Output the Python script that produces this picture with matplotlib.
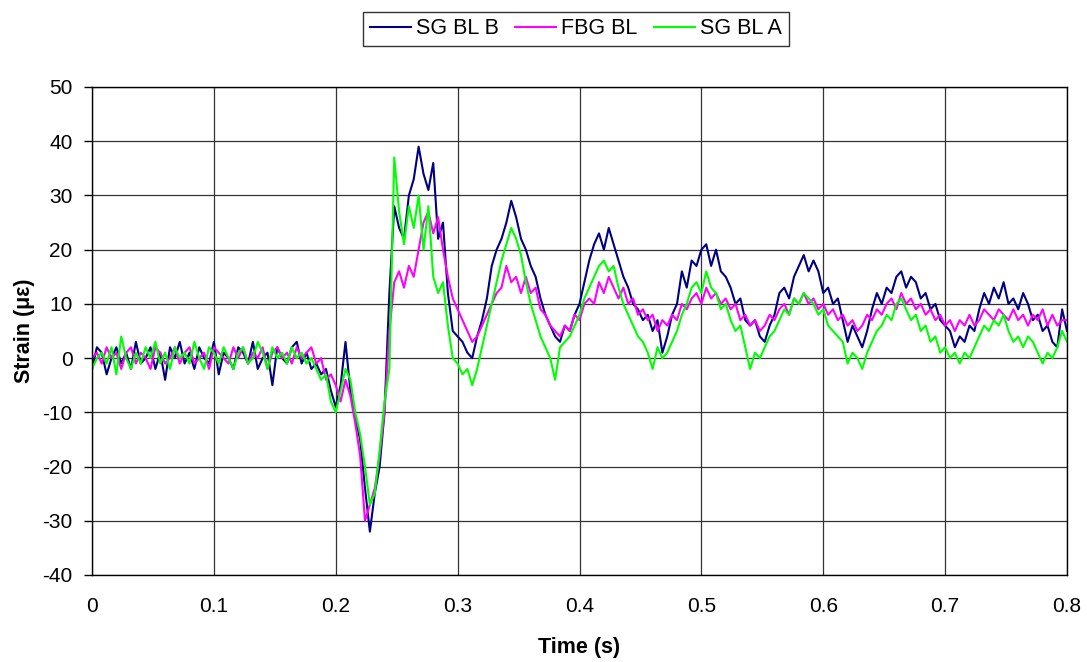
import numpy as np
import matplotlib
matplotlib.use("Agg")
import matplotlib.pyplot as plt

dt = 0.004
time = [round(i * dt, 3) for i in range(201)]

sg_bl_b = [
    -2, 2, 1, -3, 0, 2, -1, 1, -2, 3,
    -1, 0, 2, -2, 1, -4, 2, 0, 3, -1,
    1, -2, 2, 0, -1, 3, -3, 1, 0, -2,
    2, 1, -1, 3, -2, 0, 1, -5, 2, 0,
    -1, 2, 3, -1, 1, -2,
    -1, -3, -2, -6, -9, -5, 3, -6, -11, -15,
    -24, -32, -25, -20, -10, 12, 28, 24, 22, 30,
    33, 39, 34, 31, 36, 22, 25, 12, 5, 4,
    3, 1, 0, 4, 7, 11, 17, 20, 22, 25,
    29, 26, 22, 20, 17, 15, 11, 8, 6, 4,
    3, 6, 5, 8, 10, 14, 18, 21, 23, 20,
    24, 21, 18, 15, 13, 10, 9, 7, 8, 5,
    7, 1, 4, 8, 10, 16, 13, 18, 17, 20,
    21, 17, 20, 16, 15, 13, 10, 11, 7, 6,
    7, 4, 3, 6, 8, 12, 13, 11, 15, 17,
    19, 16, 18, 16, 12, 13, 10, 11, 7, 3,
    6, 4, 2, 5, 9, 12, 10, 13, 12, 15,
    16, 13, 15, 14, 11, 12, 9, 10, 7, 6,
    5, 2, 4, 3, 6, 5, 9, 12, 10, 13,
    11, 14, 10, 11, 9, 12, 10, 7, 8, 5,
    6, 3, 2, 9, 5,
]

fbg_bl = [
    0, 1, -1, 2, 0, 1, -2, 1, 2, -1,
    1, 0, -2, 2, 1, -1, 0, 2, -1, 1,
    2, -1, 0, 1, -2, 2, 1, 0, -1, 2,
    0, 2, -1, 1, 0, 2, -2, 1, 2, 0,
    1, -1, 2, 0, 1, 2,
    -1, 0, -4, -3, -5, -8, -4, -7, -12, -18,
    -30, -27, -24, -18, -10, 5, 14, 16, 13, 17,
    15, 20, 25, 27, 23, 26, 20, 15, 11, 9,
    7, 5, 3, 4, 6, 8, 10, 12, 13, 17,
    14, 15, 12, 15, 12, 13, 9, 8, 6, 5,
    4, 6, 5, 8, 7, 10, 11, 10, 14, 12,
    15, 13, 11, 13, 10, 11, 8, 9, 7, 8,
    5, 7, 6, 8, 7, 10, 9, 11, 12, 10,
    13, 11, 12, 10, 11, 9, 10, 7, 8, 6,
    7, 5, 6, 8, 7, 9, 10, 8, 11, 10,
    12, 10, 11, 9, 10, 8, 9, 7, 8, 6,
    7, 5, 6, 8, 7, 9, 8, 10, 11, 9,
    12, 10, 11, 9, 10, 8, 9, 7, 8, 6,
    7, 5, 7, 6, 8, 6, 7, 9, 8, 7,
    9, 8, 7, 9, 7, 8, 6, 8, 7, 9,
    6, 8, 6, 7, 7,
]

sg_bl_a = [
    -2, 0, 1, -1, 2, -3, 4, 0, -2, 1,
    -1, 2, 0, 3, -1, 1, -2, 2, 0, 1,
    -1, 3, 0, -2, 2, 1, -1, 2, 0, -2,
    1, 2, -1, 0, 3, 1, -2, 2, 0, 1,
    -1, 2, 0, 1, -1, 0,
    -2, -4, -3, -8, -10, -6, -2, -4, -10, -14,
    -20, -27, -25, -17, -8, -2, 37, 27, 21, 28,
    24, 30, 20, 28, 15, 12, 14, 6, 0, -1,
    -3, -2, -5, -2, 2, 6, 10, 14, 18, 21,
    24, 22, 19, 14, 10, 7, 4, 2, 0, -4,
    2, 3, 4, 6, 8, 11, 13, 15, 17, 18,
    16, 17, 13, 10, 8, 6, 4, 3, 1, -2,
    2, 0, 1, 3, 5, 8, 10, 13, 14, 12,
    16, 13, 12, 9, 10, 7, 5, 6, 2, -2,
    1, 0, 2, 4, 5, 7, 9, 8, 11, 10,
    12, 11, 10, 8, 9, 6, 5, 4, 3, -1,
    1, 0, -2, 1, 3, 5, 6, 8, 7, 10,
    11, 9, 7, 8, 5, 6, 3, 4, 1, 2,
    0, 1, -1, 1, 0, 2, 4, 6, 5, 7,
    6, 8, 5, 3, 4, 2, 4, 3, 1, -1,
    1, 0, 2, 5, 3,
]

series_names = ["SG BL B", "FBG BL", "SG BL A"]
series_colors = ["#000080", "#FF00FF", "#00FF00"]
x_ticks = [0, 0.1, 0.2, 0.3, 0.4, 0.5, 0.6, 0.7, 0.8]
x_tick_labels = ["0", "0.1", "0.2", "0.3", "0.4", "0.5", "0.6", "0.7", "0.8"]
y_ticks = list(range(-40, 51, 10))

plt.rcParams['font.family'] = ['Liberation Sans', 'DejaVu Sans']
plt.rcParams['axes.unicode_minus'] = False

fig = plt.figure(figsize=(10.87, 6.62), dpi=100)
ax = fig.add_axes([92 / 1087, 1 - 575 / 662, (1067 - 92) / 1087, (575 - 87) / 662])

handles = []
for name, col, vals in zip(series_names, series_colors, [sg_bl_b, fbg_bl, sg_bl_a]):
    h, = ax.plot(time, vals, color=col, lw=1.5, label=name)
    handles.append(h)

ax.set_xlim(0, 0.8)
ax.set_ylim(-40, 50)
ax.set_xticks(x_ticks)
ax.set_xticklabels(x_tick_labels)
ax.set_yticks(y_ticks)
ax.grid(True, color="#333333", lw=0.9)
ax.set_axisbelow(True)
for s in ax.spines.values():
    s.set_color("black")
    s.set_linewidth(1.0)
ax.tick_params(axis='y', length=6, width=1, labelsize=15, pad=8)
ax.tick_params(axis='x', length=0, labelsize=15, pad=16)
ax.set_xlabel("Time (s)", fontsize=15.5, fontweight='bold', labelpad=15)
ax.set_ylabel("Strain (\u03bc\u03b5)", fontsize=15.5, fontweight='bold', labelpad=5.5)

leg = fig.legend(handles=handles, loc='center', bbox_to_anchor=(576 / 1087, 1 - 29 / 662),
                 ncol=3, fontsize=15.5, frameon=True, fancybox=False, edgecolor='black',
                 handlelength=1.9, handletextpad=0.25, columnspacing=0.75, borderpad=0.3)
leg.get_frame().set_linewidth(1.0)

fig.savefig("out.png", dpi=100)
